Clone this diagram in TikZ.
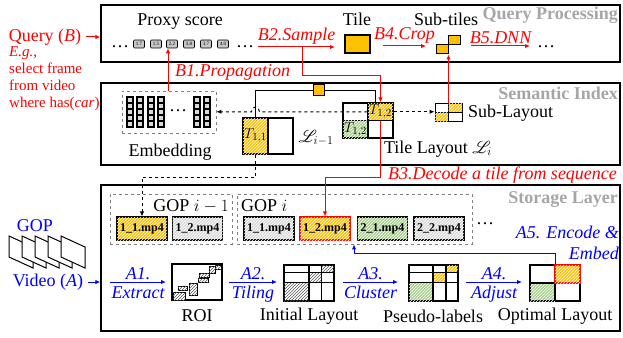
\documentclass[tikz,border=0pt]{standalone}
\usepackage{fontspec}
\setmainfont{Liberation Serif}
\usepackage{mathrsfs}
\usetikzlibrary{arrows.meta,patterns,calc}
\definecolor{yc}{HTML}{FFC000}
\definecolor{gc}{HTML}{A9D18E}
\definecolor{lg}{HTML}{D9D9D9}
\definecolor{tg}{HTML}{A6A6A6}
\definecolor{rc}{HTML}{FF0000}
\definecolor{bc}{HTML}{0000FF}
\begin{document}
\begin{tikzpicture}[x=1pt,y=-1pt,font=\fontsize{18}{21}\selectfont,
 panel/.style={draw,line width=1.3pt,inner sep=0,minimum width=519pt},
 ttl/.style={font=\fontsize{18}{20}\selectfont\bfseries,text=tg,anchor=east,inner sep=0},
 txt/.style={inner sep=0},
 rtxt/.style={inner sep=0,text=rc,font=\fontsize{18}{20}\selectfont\itshape},
 btxt/.style={inner sep=0,text=bc,font=\fontsize{18}{20}\selectfont\itshape},
 rarr/.style={draw=rc,line width=1pt,-{Latex[length=5pt,width=4.5pt]}},
 barr/.style={draw=bc,line width=1pt,-{Latex[length=5pt,width=4.5pt]}},
 darr/.style={draw=black,line width=1pt,dashed,-{Latex[length=5pt,width=4.5pt]}},
 cellbox/.style={draw,line width=1.2pt,inner sep=0},
 yh/.style={fill=yc,postaction={pattern=north east lines,pattern color=white}},
 gh/.style={fill=gc,postaction={pattern=north east lines,pattern color=white}},
 lh/.style={fill=lg,postaction={pattern=north east lines,pattern color=white}},
 dh/.style={fill=white,postaction={pattern=north east lines,pattern color=black!65}},
 mp/.style={cellbox,minimum width=50pt,minimum height=23pt,font=\fontsize{12}{12}\selectfont\bfseries},
 score/.style={draw,line width=0.6pt,fill=gray!45,rounded corners=1pt,minimum width=11pt,minimum height=8pt,inner sep=0,font=\fontsize{5}{5}\selectfont},
 gopbox/.style={draw=gray,dashed,line width=0.9pt,inner sep=0},
 lcell/.style={cellbox,minimum width=25pt,minimum height=17.5pt,font=\fontsize{15}{15}\selectfont},
 scell/.style={cellbox,minimum width=13.5pt,minimum height=9pt,line width=1pt},
]
\useasboundingbox (0,0) rectangle (623,337);

% panels
\node[panel,minimum height=57pt] (qp) at (360.5,33.5) {};
\node[panel,minimum height=82pt] (si) at (360.5,124) {};
\node[panel,minimum height=146pt] (sl) at (360.5,258) {};
\node[ttl] (qpt) at (618,15) {Query Processing};
\node[ttl] (sit) at (618,93.5) {Semantic Index};
\node[ttl] (slt) at (618,200) {Storage Layer};

% query
\node[txt,text=rc] (query) at (45,37) {Query (\textit{B})};
\draw[rarr] ([xshift=5pt]query.east) -- (query.east -| qp.west);
\node[txt,text=rc,anchor=north west,align=left,font=\fontsize{15}{17}\selectfont] (eg) at (9,46) {\textit{E.g.},\\select frame\\from video\\where has(\textit{car})};

% query processing
\node[txt] (proxy) at (180,22) {Proxy score};
\node[txt] (dl) at (120,47) {\ldots};
\foreach \v/\x [count=\i] in {1.7/139,1.5/156,2.2/172,3.8/189,3.7/206,4.0/223}
  \node[score] (s\i) at (\x,44) {\v};
\node[txt] (dr) at (245,47) {\ldots};
\coordinate (b2s) at (258,47);
\coordinate (b2e) at (335,47);
\draw[rarr] (b2s) -- (b2e) node[midway,above=2pt,rtxt] (b2l) {B2.Sample};
\node[cellbox,fill=yc,minimum width=25pt,minimum height=18pt] (tile) at (357.5,44) {};
\node[txt] (tilel) at (357,19) {Tile};
\coordinate (b4s) at (383,46);
\coordinate (b4e) at (426,46);
\draw[rarr] (b4s) -- (b4e) node[midway,above=2pt,rtxt] (b4l) {B4.Crop};
\node[cellbox,fill=yc,minimum width=12pt,minimum height=9pt,line width=1pt] (st1) at (442,49.5) {};
\node[cellbox,fill=yc,minimum width=12.5pt,minimum height=9pt,line width=1pt] (st2) at (454.5,40.5) {};
\node[txt] (stl) at (446,19) {Sub-tiles};
\coordinate (b5s) at (471,46);
\coordinate (b5e) at (530,46);
\draw[rarr] (b5s) -- (b5e) node[midway,above=2pt,rtxt] (b5l) {B5.DNN};
\node[txt] (de) at (546,47) {\ldots};

% semantic index: embedding
\node[gopbox,minimum width=94pt,minimum height=42pt] (emb) at (169,112) {};
\foreach \x in {130,140,151,161,197,207}
  \foreach \j in {0,...,4}
    \draw[line width=1.1pt,fill=gray!30] (\x-3,97+6*\j) rectangle ++(6,6);
\node[txt] (edots) at (178,111) {\ldots};
\node[txt] (embl) at (170,152) {Embedding};

% B1
\coordinate (b1s) at (168,91);
\draw[rarr] (b1s) -- (b1s |- s3.south);
\node[rtxt,anchor=west] (b1l) at (175,72) {B1.Propagation};

% layout L_{i-1}
\node[cellbox,yh,minimum width=25pt,minimum height=36pt,font=\fontsize{15}{15}\selectfont] (t11) at (255.5,136) {$T_{1,1}$};
\node[cellbox,minimum width=25pt,minimum height=36pt] (lp2) at (280.5,136) {};
\node[txt] (lpl) at (316,138) {$\mathscr{L}_{i-1}$};

% layout L_i
\node[lcell] (tl) at (355.5,111.75) {};
\node[lcell,yh] (t12) at (380.5,111.75) {$T_{1,2}$};
\node[lcell,gh] (bl) at (355.5,129.25) {$T_{1,2}$};
\node[lcell] (br) at (380.5,129.25) {};
\node[txt] (lil) at (438,149) {Tile Layout $\mathscr{L}_i$};

% black line with key
\draw[line width=1pt] (t11.north) -- (255.5,90) -- (375,90) -- (375,0 |- t12.north);
\node[cellbox,fill=yc,minimum width=11pt,minimum height=11pt,line width=1pt] (ys) at (319,90) {};

% sub-layout
\node[scell] (u1) at (441.75,107.5) {};
\node[scell,yh] (u2) at (455.25,107.5) {};
\node[scell,yh] (u3) at (441.75,116.5) {};
\node[scell] (u4) at (455.25,116.5) {};
\node[txt,anchor=west] (sul) at (468,113) {Sub-Layout};

% dashed connectors
\draw[darr] (t12.east) -- (t12.east -| u1.west);
\draw[darr] (t12.west) -- (259.5,111.75) .. controls (259.5,105.5) and (251.5,105.5) .. (251.5,111.75) -- (t12.west -| emb.east);

% B2 path, sub-tile arrow
\draw[rarr] (302,47) -- (302,75) -- (380.5,75) -- (t12.north);
\draw[rarr] (u2.north -| 448.5,0) -- (448.5,0 |- st1.south);

% storage: GOP boxes
\node[gopbox,minimum width=122pt,minimum height=50pt] (gop1) at (171,219) {};
\node[gopbox,minimum width=235pt,minimum height=50pt] (gop2) at (354.5,219) {};
\node[txt,anchor=east] (g1l) at (229,206) {GOP $i-1$};
\node[txt,anchor=west] (g2l) at (241,206) {GOP $i$};
\node[mp,yh] (m11a) at (142,228.5) {1\_1.mp4};
\node[mp,lh] (m12a) at (197.5,228.5) {1\_2.mp4};
\node[mp,lh] (m11b) at (269,228.5) {1\_1.mp4};
\node[mp,yh,draw=rc] (m12b) at (325,228.5) {1\_2.mp4};
\node[mp,gh] (m21b) at (382.5,228.5) {2\_1.mp4};
\node[mp,lh] (m22b) at (439,228.5) {2\_2.mp4};
\node[txt] (gdots) at (485,224) {\ldots};

% B3 and dashed decode
\draw[rarr] (t12.south) -- (380.5,177) -- (325,177) -- (m12b.north);
\node[rtxt,anchor=west] (b3l) at (388,175) {B3.Decode a tile from sequence};
\draw[darr] (t11.south) -- (255.5,177) -- (142,177) -- (m11a.north);

% GOP frames
\foreach \i in {0,...,4}
  \draw[fill=white,line width=1pt] ({9+13*\i},236) -- ++(24,11) -- ++(0,21) -- ++(-24,-11) -- cycle;
\node[txt,text=bc] (gopl) at (35,226) {GOP};
\node[txt,text=bc] (video) at (48,282) {Video (\textit{A})};
\draw[barr] ([xshift=5pt]video.east) -- (video.east -| sl.west);

% A pipeline
\coordinate (a1s) at (110,282); \coordinate (a1e) at (166,282);
\draw[barr] (a1s) -- (a1e) node[midway,above=2pt,btxt] (a1t) {A1.} node[midway,below=4pt,btxt] (a1b) {Extract};
\node[cellbox,minimum width=50pt,minimum height=36pt] (roi) at (197,282) {};
\begin{scope}[line width=0.8pt]
\draw[dh] (173,292) rectangle (185,300);
\draw[dh] (178,286) rectangle (187,290);
\draw[dh] (189,283) rectangle (197,295);
\draw[dh] (198,278) rectangle (208,282);
\draw[dh] (199,273.5) rectangle (209,277);
\draw[dh] (209,266) rectangle (215,273);
\draw[dh] (215,265.5) rectangle (221,269);
\end{scope}
\node[txt] (roil) at (197,316) {ROI};

\coordinate (a2s) at (229,282); \coordinate (a2e) at (277,282);
\draw[barr] (a2s) -- (a2e) node[midway,above=2pt,btxt] (a2t) {A2.} node[midway,below=4pt,btxt] (a2b) {Tiling};
\node[cellbox,minimum width=50pt,minimum height=36pt] (init) at (309,283) {};
\draw[dh,line width=1.2pt] (284,282.5) rectangle (309,301);
\draw[dh,line width=1.2pt] (309,272.5) rectangle (321.5,282.5);
\draw[dh,line width=1.2pt] (321.5,265) rectangle (334,272.5);
\draw[line width=1.2pt] (284,272.5) -- (334,272.5) (284,282.5) -- (334,282.5) (309,265) -- (309,301) (321.5,265) -- (321.5,301);
\node[txt] (initl) at (309,316) {Initial Layout};

\coordinate (a3s) at (343,282); \coordinate (a3e) at (398,282);
\draw[barr] (a3s) -- (a3e) node[midway,above=2pt,btxt] (a3t) {A3.} node[midway,below=4pt,btxt] (a3b) {Cluster};
\node[cellbox,minimum width=49pt,minimum height=36pt] (pseudo) at (433.5,283) {};
\draw[gh,line width=1.2pt] (409,282.5) rectangle (433,301);
\draw[yh,line width=1.2pt] (433,272.5) rectangle (446,282.5);
\draw[yh,line width=1.2pt] (446,265) rectangle (458,272.5);
\draw[line width=1.2pt] (409,272.5) -- (458,272.5) (409,282.5) -- (458,282.5) (433,265) -- (433,301) (446,265) -- (446,301);
\node[txt] (pseudol) at (433,316) {Pseudo-labels};

\coordinate (a4s) at (466,282); \coordinate (a4e) at (522,282);
\draw[barr] (a4s) -- (a4e) node[midway,above=2pt,btxt] (a4t) {A4.} node[midway,below=4pt,btxt] (a4b) {Adjust};
\node[cellbox,minimum width=50pt,minimum height=36pt] (opt) at (555,283) {};
\draw[gh,line width=1.2pt] (530,283) rectangle (555,301);
\draw[line width=1.2pt] (530,283) -- (580,283) (555,265) -- (555,301);
\draw[yh,draw=rc,line width=1.2pt] (555,265) rectangle (580,283);
\node[txt] (optl) at (555,316) {Optimal Layout};

% A5
\draw[barr] (opt.north) -- (555,253) -- (354,253) -- (gop2.south -| 354,0);
\node[btxt,anchor=east] (a5a) at (619,232) {A5. Encode \&};
\node[btxt,anchor=east] (a5b) at (619,253) {Embed};
\end{tikzpicture}
\end{document}
